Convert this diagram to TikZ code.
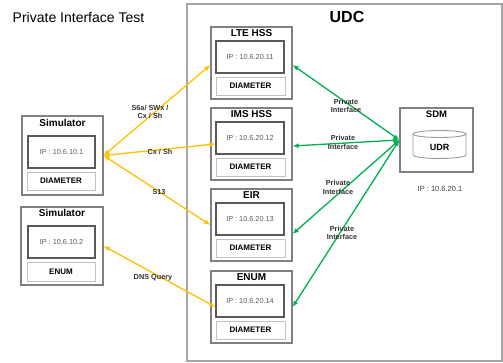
\documentclass[tikz,border=0pt]{standalone}
\usepackage{fontspec}
\setmainfont{Liberation Sans}
\usetikzlibrary{arrows.meta}
\definecolor{linkyellow}{HTML}{FFC000}
\definecolor{linkgreen}{HTML}{00B050}
\definecolor{boxgray}{HTML}{808080}
\definecolor{ipgray}{HTML}{595959}
\definecolor{protogray}{HTML}{C0C0C0}
\definecolor{udcgray}{HTML}{A6A6A6}

\begin{document}
\begin{tikzpicture}[x=1pt,y=1pt,>={Latex[length=6pt,width=5pt]},
    outerbox/.style={draw=boxgray,line width=1.2pt,minimum width=81pt,minimum height=72pt,inner sep=0pt},
    ipbox/.style={draw=ipgray,line width=1.2pt,minimum width=68pt,minimum height=32pt,inner sep=0pt,
      text=ipgray,font=\fontsize{7.3}{8}\selectfont},
    protobox/.style={draw=protogray,line width=0.8pt,minimum width=69pt,minimum height=18pt,inner sep=0pt,
      font=\bfseries\fontsize{8}{9}\selectfont},
    boxtitle/.style={inner sep=0pt,font=\bfseries\fontsize{10}{12}\selectfont},
    linklabel/.style={inner sep=0pt,align=center,font=\bfseries\fontsize{7.3}{8.5}\selectfont,text=black!80},
    yellowlink/.style={<->,linkyellow,line width=1.3pt},
    greenlink/.style={<->,linkgreen,line width=1.3pt}]
    \useasboundingbox (0,0) rectangle (503,363);
    % Title and UDC frame (pixel coords, y measured up from the bottom)
    \node[inner sep=0pt,font=\fontsize{14}{16}\selectfont] (title) at (78.5,345) {Private Interface Test};
    \node[draw=udcgray,line width=1.3pt,minimum width=315pt,minimum height=357pt,inner sep=0pt] (udc) at (344.5,180.5) {};
    \node[inner sep=0pt,font=\bfseries\fontsize{16}{18}\selectfont] (udctitle) at (347,346) {UDC};
    % Simulators
    \node[outerbox,minimum height=79pt] (sima) at (62.5,207.5) {};
    \node[boxtitle] (simatitle) at (62.5,240) {Simulator};
    \node[ipbox,minimum width=67pt] (simaip) at (61.5,211) {IP : 10.6.10.1};
    \node[protobox,minimum width=68pt] (simaproto) at (61,182) {DIAMETER};
    \node[outerbox,minimum width=82pt,minimum height=78pt] (simb) at (62,117) {};
    \node[boxtitle] (simbtitle) at (62,150) {Simulator};
    \node[ipbox,minimum width=67pt] (simbip) at (61.5,121) {IP : 10.6.10.2};
    \node[protobox,minimum width=68pt,minimum height=19pt] (simbproto) at (61,91.5) {ENUM};
    % LTE HSS
    \node[outerbox] (lte) at (251.5,300) {};
    \node[boxtitle] (ltetitle) at (251.5,330) {LTE HSS};
    \node[ipbox] (lteip) at (250,306) {IP : 10.6.20.11};
    \node[protobox] (lteproto) at (250.5,277) {DIAMETER};
    % IMS HSS
    \node[outerbox] (ims) at (251.5,219) {};
    \node[boxtitle] (imstitle) at (251.5,249) {IMS HSS};
    \node[ipbox] (imsip) at (250,225) {IP : 10.6.20.12};
    \node[protobox] (imsproto) at (250.5,196) {DIAMETER};
    % EIR
    \node[outerbox] (eir) at (251.5,138) {};
    \node[boxtitle] (eirtitle) at (251.5,168) {EIR};
    \node[ipbox] (eirip) at (250,144) {IP : 10.6.20.13};
    \node[protobox] (eirproto) at (250.5,115) {DIAMETER};
    % ENUM
    \node[outerbox] (enum) at (251.5,56) {};
    \node[boxtitle] (enumtitle) at (251.5,86) {ENUM};
    \node[ipbox] (enumip) at (250,62) {IP : 10.6.20.14};
    \node[protobox] (enumproto) at (250.5,33) {DIAMETER};
    % SDM with the UDR drum
    \node[outerbox,minimum width=73pt,minimum height=64pt] (sdm) at (436.5,223) {};
    \node[inner sep=0pt,font=\bfseries\fontsize{9.5}{11}\selectfont] (sdmtitle) at (436.5,249) {SDM};
    \draw[draw=protogray!80!black,line width=0.9pt] (413,229) -- (413,208) arc (180:360:26.5 and 3.5) -- (466,229);
    \draw[draw=protogray!80!black,line width=0.9pt] (439.5,229) ellipse (26.5 and 3.5);
    \node[inner sep=0pt,font=\bfseries\fontsize{9}{11}\selectfont] (udr) at (439.5,216) {UDR};
    \node[inner sep=0pt,text=black!75,font=\fontsize{7.5}{9}\selectfont] (sdmip) at (440,174) {IP : 10.6.20.1};
    % Simulator links
    \draw[yellowlink] (sima.east) -- ([yshift=-2pt]lte.west);
    \draw[yellowlink] (sima.east) -- ([yshift=-6pt]imsip.west);
    \draw[yellowlink] (sima.east) -- (eir.west);
    \draw[yellowlink] (simb.east) -- ([yshift=-6pt]enumip.west);
    \node[linklabel] (lbllte) at (150,251) {S6a/ SWx /\\Cx / Sh};
    \node[linklabel] (lblims) at (160,211) {Cx / Sh};
    \node[linklabel] (lbleir) at (159,171) {S13};
    \node[linklabel] (lbldns) at (153,85) {DNS Query};
    % Private interfaces
    \draw[greenlink] (sdm.west) -- ([yshift=-2pt]lte.east);
    \draw[greenlink] (sdm.west) -- ([yshift=-2pt]ims.east);
    \draw[greenlink] (sdm.west) -- ([yshift=-9pt]eir.east);
    \draw[greenlink] (sdm.west) -- (enum.east);
    \node[linklabel] (lblpia) at (346,257) {Private\\Interface};
    \node[linklabel] (lblpib) at (343,220.5) {Private\\Interface};
    \node[linklabel] (lblpic) at (338,175.5) {Private\\Interface};
    \node[linklabel] (lblpid) at (342,130) {Private\\Interface};
\end{tikzpicture}
\end{document}
